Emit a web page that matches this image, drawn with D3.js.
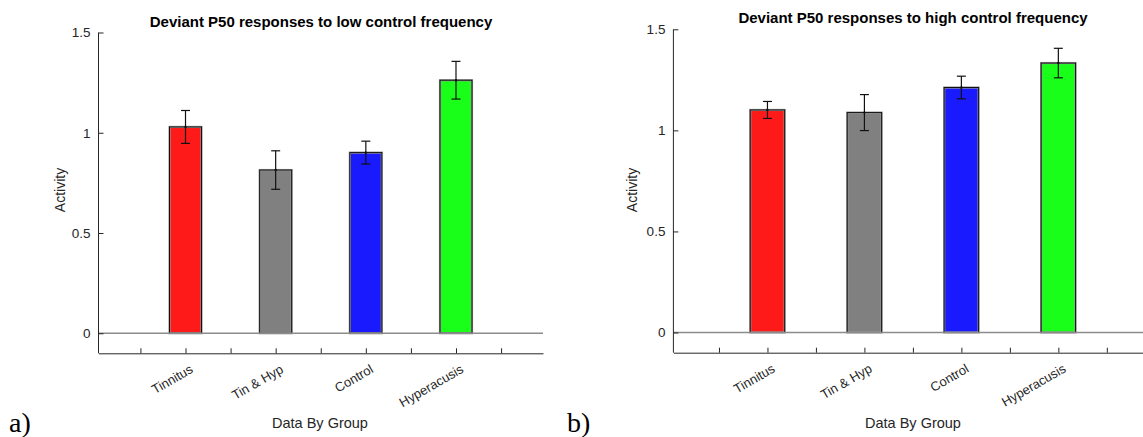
<!DOCTYPE html>
<html>
<head>
<meta charset="utf-8">
<script src="https://cdn.jsdelivr.net/npm/d3@7"></script>
<style>
  html, body { margin: 0; padding: 0; background: #fff; }
  svg { display: block; font-family: "Liberation Sans", Arial, sans-serif; }
</style>
</head>
<body>
<svg id="fig" width="1143" height="437"></svg>
<script>
// Groups shared by both panels
const groups = ["Tinnitus", "Tin & Hyp", "Control", "Hyperacusis"];
const barColors = ["#ff1a1a", "#808080", "#1a1aff", "#1aff1a"];

// Mean deviant P50 activity and standard error, low control frequency
const lowMeans = [1.029, 0.814, 0.901, 1.262];
const lowErrors = [0.082, 0.096, 0.057, 0.094];

// Mean deviant P50 activity and standard error, high control frequency
const highMeans = [1.101, 1.088, 1.212, 1.333];
const highErrors = [0.042, 0.089, 0.056, 0.073];

// Axis ticks
const yTicks = [0, 0.5, 1, 1.5];
const yTickLabels = ["0", "0.5", "1", "1.5"];
const xTicks = [0.5, 1, 1.5, 2, 2.5, 3, 3.5, 4, 4.5];

const titles = [
  "Deviant P50 responses to low control frequency",
  "Deviant P50 responses to high control frequency"
];
const panelTags = ["a)", "b)"];

const svg = d3.select("#fig");
const axisColor = "#262626";

const panels = [
  { means: lowMeans, errors: lowErrors, title: titles[0], tag: panelTags[0],
    xDom: [0.035, 4.965], xRange: [98.5, 543], yRange: [353.3, 32.5],
    titleX: 321, titleY: 26.5, yLabelX: 65, xLabelX: 320, tagX: 9 },
  { means: highMeans, errors: highErrors, title: titles[1], tag: panelTags[1],
    xDom: [0.03, 4.97], xRange: [673.4, 1152.4], yRange: [352.7, 29.3],
    titleX: 913, titleY: 22.7, yLabelX: 637, xLabelX: 913, tagX: 567 }
];

panels.forEach(p => {
  const x = d3.scaleLinear().domain(p.xDom).range(p.xRange);
  const y = d3.scaleLinear().domain([-0.1, 1.5]).range(p.yRange);
  const barW = x(0.355) - x(0);
  const g = svg.append("g");

  // Bars: soft grey rim under a dark edge
  g.selectAll("rect.bar")
    .data(p.means)
    .join("rect")
    .attr("class", "bar")
    .attr("x", (d, i) => x(i + 1) - barW / 2)
    .attr("y", d => y(d))
    .attr("width", barW)
    .attr("height", d => y(0) - y(d))
    .attr("fill", (d, i) => barColors[i])
    .attr("stroke", "#9a9a9a")
    .attr("stroke-width", 2.2);
  g.selectAll("rect.edge")
    .data(p.means)
    .join("rect")
    .attr("class", "edge")
    .attr("x", (d, i) => x(i + 1) - barW / 2)
    .attr("y", d => y(d))
    .attr("width", barW)
    .attr("height", d => y(0) - y(d))
    .attr("fill", "none")
    .attr("stroke", "#111")
    .attr("stroke-width", 1);

  // Baseline at zero
  g.append("line")
    .attr("x1", p.xRange[0]).attr("x2", p.xRange[1])
    .attr("y1", y(0)).attr("y2", y(0))
    .attr("stroke", "#8c8c8c").attr("stroke-width", 1.6);

  // Error bars
  const eb = g.selectAll("g.err")
    .data(p.means.map((m, i) => ({ m, e: p.errors[i], i })))
    .join("g").attr("class", "err")
    .attr("stroke", "#111").attr("stroke-width", 1.2);
  eb.append("line")
    .attr("x1", d => x(d.i + 1)).attr("x2", d => x(d.i + 1))
    .attr("y1", d => y(d.m - d.e)).attr("y2", d => y(d.m + d.e));
  eb.append("line")
    .attr("x1", d => x(d.i + 1) - 4.5).attr("x2", d => x(d.i + 1) + 4.5)
    .attr("y1", d => y(d.m + d.e)).attr("y2", d => y(d.m + d.e));
  eb.append("line")
    .attr("x1", d => x(d.i + 1) - 4.5).attr("x2", d => x(d.i + 1) + 4.5)
    .attr("y1", d => y(d.m - d.e)).attr("y2", d => y(d.m - d.e));
  eb.append("circle")
    .attr("cx", d => x(d.i + 1)).attr("cy", d => y(d.m))
    .attr("r", 1.2).attr("fill", "#111").attr("stroke", "none");

  // Y axis, ticks pointing inward
  const yAxis = d3.axisLeft(y)
    .tickValues(yTicks)
    .tickFormat((d, i) => yTickLabels[i])
    .tickSizeInner(-5).tickSizeOuter(0).tickPadding(8);
  const yg = g.append("g")
    .attr("transform", `translate(${p.xRange[0]},0)`)
    .call(yAxis);
  yg.select(".domain").remove();
  yg.append("line")
    .attr("x1", 0).attr("x2", 0)
    .attr("y1", y(1.5)).attr("y2", y(-0.1))
    .attr("stroke", axisColor);
  yg.selectAll(".tick line").attr("stroke", axisColor);
  yg.selectAll(".tick text")
    .attr("fill", axisColor)
    .style("font-size", "13.5px")
    .style("font-family", "'Liberation Sans', Arial, sans-serif");

  // X axis along the lower limit, ticks pointing inward
  const xAxis = d3.axisBottom(x)
    .tickValues(xTicks)
    .tickFormat("")
    .tickSizeInner(-5).tickSizeOuter(0);
  const xg = g.append("g")
    .attr("transform", `translate(0,${y(-0.1)})`)
    .call(xAxis);
  xg.select(".domain").attr("stroke", axisColor);
  xg.selectAll(".tick line").attr("stroke", axisColor);

  // Group names, rotated
  g.selectAll("text.cat")
    .data(groups)
    .join("text")
    .attr("class", "cat")
    .attr("transform", (d, i) => `translate(${x(i + 1) + 8.5},${y(-0.1) + 18.5}) rotate(-30)`)
    .attr("text-anchor", "end")
    .attr("fill", axisColor)
    .style("font-size", "13px")
    .text(d => d);

  // Title
  g.append("text")
    .attr("x", p.titleX).attr("y", p.titleY)
    .attr("text-anchor", "middle")
    .style("font-size", "15px").style("font-weight", "bold")
    .attr("fill", "#000")
    .text(p.title);

  // Axis labels
  g.append("text")
    .attr("transform", `translate(${p.yLabelX},190) rotate(-90)`)
    .attr("text-anchor", "middle")
    .attr("fill", axisColor)
    .style("font-size", "14px")
    .text("Activity");
  g.append("text")
    .attr("x", p.xLabelX)
    .attr("y", 428)
    .attr("text-anchor", "middle")
    .attr("fill", axisColor)
    .style("font-size", "14.5px")
    .text("Data By Group");

  // Panel tag
  g.append("text")
    .attr("x", p.tagX).attr("y", 432)
    .style("font-family", "'Liberation Serif', 'Times New Roman', serif")
    .style("font-size", "28px")
    .attr("fill", "#000")
    .text(p.tag);
});
</script>
</body>
</html>
